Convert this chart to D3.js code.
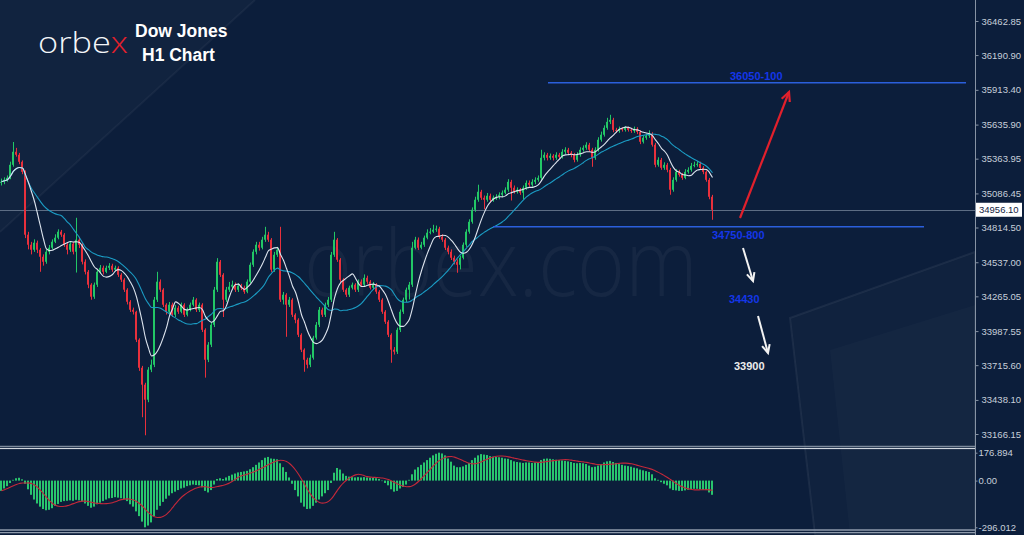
<!DOCTYPE html>
<html><head><meta charset="utf-8">
<script src="https://cdn.jsdelivr.net/npm/d3@7"></script>
<style>html,body{margin:0;padding:0;background:#0c1e3b;overflow:hidden}</style>
</head><body><svg id="c" width="1024" height="535"></svg>
<script>
// ---------- DATA ----------
const opens=[35171,35179,35195,35211,35315,35419,35395,35339,35259,34757,
34677,34637,34693,34637,34581,34541,34621,34653,34701,34733,
34781,34757,34677,34637,34685,34621,34717,34677,34541,34461,
34358,34262,34358,34461,34493,34461,34493,34509,34478,34493,
34437,34398,34318,34222,34158,34142,33919,33695,33560,33440,
33680,33719,34238,34382,34318,34198,34142,34198,34118,34174,
34142,34198,34118,34158,34198,34238,34158,34198,33998,33759,
33879,34038,34318,34541,34437,34238,34318,34342,34358,34318,
34350,34334,34302,34382,34517,34621,34677,34653,34717,34757,
34717,34478,34597,34637,34238,34278,34198,34238,34118,34078,
33958,33839,33759,33719,33775,33935,34038,34158,34118,34198,
34238,34597,34717,34557,34398,34318,34278,34334,34358,34318,
34382,34358,34413,34382,34334,34358,34302,34238,34142,34062,
33958,33839,33823,33998,34142,34238,34318,34358,34653,34717,
34653,34677,34733,34773,34781,34797,34805,34741,34717,34653,
34621,34573,34541,34517,34573,34677,34781,34860,34956,35036,
35100,35052,35036,35068,35036,35052,35060,35076,35092,35116,
35179,35132,35100,35116,35092,35132,35171,35156,35179,35195,
35211,35371,35395,35371,35387,35371,35395,35379,35419,35435,
35411,35395,35355,35395,35435,35451,35475,35435,35371,35435,
35515,35555,35610,35658,35674,35594,35586,35602,35594,35610,
35594,35586,35602,35578,35499,35531,35547,35562,35475,35315,
35355,35291,35315,35275,35116,35195,35259,35235,35211,35259,
35275,35307,35315,35323,35291,35259,35195,35060];
const highs=[35205,35215,35230,35340,35497,35450,35410,35350,35270,34780,
34700,34720,34710,34650,34600,34640,34675,34720,34760,34800,
34795,34770,34690,34705,34700,34892,34740,34690,34560,34475,
34370,34375,34480,34515,34510,34510,34530,34525,34510,34505,
34450,34410,34330,34235,34175,34150,33930,33710,33575,33700,
33760,34260,34461,34400,34330,34210,34220,34215,34195,34190,
34215,34210,34175,34215,34260,34250,34215,34210,34010,33900,
34060,34340,34570,34555,34450,34340,34380,34390,34375,34370,
34365,34350,34400,34535,34640,34700,34700,34740,34820,34780,
34730,34620,34660,34820,34300,34290,34260,34250,34130,34090,
33970,33850,33775,33800,33950,34060,34180,34175,34215,34260,
34620,34780,34730,34570,34410,34330,34350,34375,34370,34400,
34400,34440,34430,34395,34380,34370,34315,34250,34155,34075,
33970,33860,34015,34160,34255,34335,34380,34700,34740,34735,
34700,34750,34800,34810,34836,34830,34820,34760,34730,34670,
34640,34590,34560,34590,34695,34800,34880,34975,35060,35156,
35115,35070,35090,35085,35070,35080,35095,35110,35135,35200,
35195,35150,35135,35130,35150,35190,35190,35200,35215,35230,
35435,35415,35410,35405,35400,35415,35410,35440,35455,35450,
35425,35410,35415,35455,35470,35495,35490,35450,35455,35535,
35580,35630,35690,35714,35690,35610,35620,35615,35625,35620,
35610,35620,35615,35590,35550,35565,35590,35575,35490,35375,
35370,35335,35330,35290,35215,35280,35275,35250,35280,35295,
35330,35340,35345,35340,35305,35270,35210,35075];
const lows=[35150,35160,35180,35200,35300,35380,35320,35240,34730,34640,
34600,34620,34610,34461,34510,34525,34600,34640,34690,34720,
34740,34660,34600,34620,34600,34455,34650,34520,34440,34330,
34238,34245,34340,34445,34440,34450,34475,34460,34465,34420,
34380,34300,34200,34140,34120,33900,33670,33300,33156,33420,
33660,33700,34220,34300,34180,34120,34130,34100,34100,34125,
34130,34100,34105,34145,34185,34140,34140,33980,33616,33740,
33860,34020,34300,34420,34100,34220,34300,34330,34300,34300,
34315,34285,34290,34370,34500,34600,34630,34640,34700,34700,
34460,34460,34580,34220,34200,33942,34180,34100,34050,33940,
33820,33663,33690,33700,33760,33920,34020,34100,34100,34180,
34220,34580,34540,34380,34300,34260,34260,34320,34300,34300,
34340,34345,34365,34320,34320,34285,34220,34125,34045,33940,
33735,33800,33805,33980,34125,34220,34240,34340,34640,34635,
34640,34660,34720,34760,34770,34780,34725,34700,34635,34600,
34555,34520,34453,34480,34560,34660,34765,34845,34940,35020,
35035,34960,35020,35015,35020,35035,35040,35060,35080,35100,
35030,35085,35085,35075,35040,35115,35140,35140,35160,35180,
35195,35350,35350,35355,35350,35355,35360,35365,35400,35395,
35375,35335,35340,35380,35420,35435,35420,35299,35355,35420,
35500,35540,35595,35640,35575,35570,35570,35580,35580,35580,
35570,35570,35560,35480,35485,35515,35530,35460,35295,35300,
35275,35275,35255,35076,35100,35180,35220,35195,35200,35245,
35260,35295,35300,35275,35240,35180,35040,34876];
const closes=[35179,35195,35211,35315,35419,35395,35339,35259,34757,34677,
34637,34693,34637,34581,34541,34621,34653,34701,34733,34781,
34757,34677,34637,34685,34621,34717,34677,34541,34461,34358,
34262,34358,34461,34493,34461,34493,34509,34478,34493,34437,
34398,34318,34222,34158,34142,33919,33695,33560,33440,33680,
33719,34238,34382,34318,34198,34142,34198,34118,34174,34142,
34198,34118,34158,34198,34238,34158,34198,33998,33759,33879,
34038,34318,34541,34437,34238,34318,34342,34358,34318,34350,
34334,34302,34382,34517,34621,34677,34653,34717,34757,34717,
34478,34597,34637,34238,34278,34198,34238,34118,34078,33958,
33839,33759,33719,33775,33935,34038,34158,34118,34198,34238,
34597,34717,34557,34398,34318,34278,34334,34358,34318,34382,
34358,34413,34382,34334,34358,34302,34238,34142,34062,33958,
33839,33823,33998,34142,34238,34318,34358,34653,34717,34653,
34677,34733,34773,34781,34797,34805,34741,34717,34653,34621,
34573,34541,34517,34573,34677,34781,34860,34956,35036,35100,
35052,35036,35068,35036,35052,35060,35076,35092,35116,35179,
35132,35100,35116,35092,35132,35171,35156,35179,35195,35211,
35371,35395,35371,35387,35371,35395,35379,35419,35435,35411,
35395,35355,35395,35435,35451,35475,35435,35371,35435,35515,
35555,35610,35658,35674,35594,35586,35602,35594,35610,35594,
35586,35602,35578,35499,35531,35547,35562,35475,35315,35355,
35291,35315,35275,35116,35195,35259,35235,35211,35259,35275,
35307,35315,35323,35291,35259,35195,35060,34956];
const macdHist=[-65,-50,-35,-15,5,15,18,8,-20,-55,
-90,-120,-145,-165,-180,-188,-185,-175,-160,-148,
-135,-130,-128,-125,-128,-122,-125,-132,-145,-160,
-172,-165,-150,-140,-130,-120,-112,-110,-105,-108,
-112,-118,-130,-150,-165,-195,-225,-260,-296,-285,
-265,-225,-185,-160,-135,-115,-95,-80,-70,-60,
-50,-45,-35,-30,-25,-28,-30,-42,-65,-75,
-60,-25,10,15,10,20,30,38,45,52,
55,58,62,72,85,100,115,130,145,150,
140,138,135,110,85,55,20,-20,-60,-100,
-140,-165,-180,-178,-160,-140,-120,-100,-80,-60,
-15,50,80,70,45,30,25,22,20,22,
20,22,20,18,18,15,10,0,-15,-30,
-55,-70,-65,-50,-40,-25,5,40,70,85,
100,115,130,145,160,170,177,172,160,140,
120,95,85,85,90,100,112,130,145,160,
168,165,162,155,152,150,148,145,140,138,
130,122,118,115,112,115,115,112,115,118,
130,138,140,138,135,132,130,128,125,122,
118,112,110,112,110,105,95,85,88,95,
105,115,122,125,118,112,105,100,95,92,
88,82,78,70,65,60,55,40,15,5,
-10,-20,-30,-50,-60,-62,-65,-65,-62,-58,
-55,-52,-52,-55,-58,-60,-75,-90];
const priceTicks=[36462.85,36190.90,35913.40,35635.90,35363.95,35086.45,34814.50,34537.00,34265.05,33987.55,33715.60,33438.10,33166.15];
const macdTicks=[176.894,0,-296.012];
const macdTickLabels=['176.894','0.00','-296.012'];
const lastPrice=34956.10;
const levelPrices=[35970,34820];
const levelLabels=['36050-100','34750-800'];
const targetLabels=['34430','33900'];
const maPeriods=[21,8];

// ---------- DRAWING ----------
const W=1024,H=535,AX=975;
const svg=d3.select('#c');
const bg='#0c1e3b';
svg.append('rect').attr('width',W).attr('height',H).attr('fill',bg);

// decorative background shapes
const deco=svg.append('g');
deco.append('path').attr('d','M0,0 L255,0 L0,232 Z').attr('fill','rgba(255,255,255,0.022)');
deco.append('path').attr('d','M0,232 L255,0').attr('stroke','rgba(255,255,255,0.045)').attr('stroke-width',2);
deco.append('path').attr('d','M790,318 L975,252 L975,535 L815,535 Z').attr('fill','rgba(255,255,255,0.018)').attr('stroke','rgba(255,255,255,0.06)').attr('stroke-width',2);
deco.append('path').attr('d','M830,350 L975,305 L975,535 L850,535 Z').attr('fill','rgba(255,255,255,0.02)');

// watermark (natural width, vertically stretched)
svg.append('text').attr('transform','translate(304,296) scale(1,1.12)')
  .attr('font-family','Open Sans, Lato, sans-serif').attr('font-weight',300)
  .attr('font-size',82).attr('fill','rgba(255,255,255,0.045)').text('orbex.com');

const n=closes.length;
const data=d3.range(n).map(i=>({i,o:opens[i],h:highs[i],l:lows[i],c:closes[i]}));
const x=d3.scaleLinear().domain([0,n-1]).range([1,712]);
const y=d3.scaleLinear().domain([33166.15,36462.85]).range([434,21]);
const ym=d3.scaleLinear().domain([-296.012,176.894]).range([527.3,452.7]);

svg.append('defs').append('clipPath').attr('id','pc').append('rect').attr('x',0).attr('y',0).attr('width',AX).attr('height',445);

// current price line
svg.append('line').attr('x1',0).attr('x2',AX).attr('y1',Math.round(y(lastPrice))+0.5).attr('y2',Math.round(y(lastPrice))+0.5)
  .attr('stroke','#5d6d84').attr('stroke-width',1.2);

const green='#22c766',red='#e8303c';
const g=svg.append('g').attr('clip-path','url(#pc)');
g.selectAll('line.wick').data(data).join('line').attr('class','wick')
  .attr('x1',d=>x(d.i)+0.5).attr('x2',d=>x(d.i)+0.5)
  .attr('y1',d=>y(d.h)).attr('y2',d=>y(d.l))
  .attr('stroke',d=>d.c>=d.o?green:red).attr('stroke-width',1);
g.selectAll('rect.body').data(data).join('rect').attr('class','body')
  .attr('x',d=>x(d.i)-1).attr('width',2)
  .attr('y',d=>y(Math.max(d.o,d.c)))
  .attr('height',d=>Math.max(1,Math.abs(y(d.o)-y(d.c))))
  .attr('fill',d=>d.c>=d.o?green:red);

// moving averages
function sma(arr,p){return arr.map((v,i)=>d3.mean(arr.slice(Math.max(0,i-p+1),i+1)));}
const maColors=['#1b9cc4','#dde4ee'];
maPeriods.forEach((p,k)=>{
  const m=sma(closes,p);
  g.append('path').datum(m).attr('fill','none').attr('stroke',maColors[k]).attr('stroke-width',1.1)
   .attr('d',d3.line().x((v,i)=>x(i)+0.5).y(v=>y(v)).curve(d3.curveMonotoneX));
});

// level lines and annotations
const lvlX=[[548,966],[493,924]];
levelPrices.forEach((p,k)=>{
  svg.append('line').attr('x1',lvlX[k][0]).attr('x2',lvlX[k][1]).attr('y1',y(p)).attr('y2',y(p))
    .attr('stroke','#2b5fdc').attr('stroke-width',1.6);
});
const lab=(t,xx,yy,col)=>svg.append('text').attr('x',xx).attr('y',yy).attr('font-family','Liberation Sans, Arial, sans-serif')
  .attr('font-weight','bold').attr('font-size',11).attr('fill',col).text(t);
lab(levelLabels[0],730,80,'#1436e8');
lab(levelLabels[1],712,239,'#1436e8');
lab(targetLabels[0],729,303,'#1436e8');
lab(targetLabels[1],734,370,'#ececec');

function arrow(x1,y1,x2,y2,col,w,hl){
  const a=Math.atan2(y2-y1,x2-x1);
  svg.append('line').attr('x1',x1).attr('y1',y1).attr('x2',x2).attr('y2',y2).attr('stroke',col).attr('stroke-width',w);
  const p=[[x2-hl*Math.cos(a-0.45),y2-hl*Math.sin(a-0.45)],[x2,y2],[x2-hl*Math.cos(a+0.45),y2-hl*Math.sin(a+0.45)]];
  svg.append('path').attr('d',d3.line()(p)).attr('fill','none').attr('stroke',col).attr('stroke-width',w).attr('stroke-linejoin','miter');
}
arrow(740,218,789,92,'#e2202c',2.2,10);
arrow(743,248,753,281,'#f2f2f2',2,9);
arrow(758,316,768,353,'#f2f2f2',2,9);

// MACD pane
const gm=svg.append('g');
gm.selectAll('rect').data(macdHist).join('rect')
  .attr('x',(v,i)=>x(i)-1).attr('width',2)
  .attr('y',v=>Math.min(ym(0),ym(v))).attr('height',v=>Math.max(0.5,Math.abs(ym(v)-ym(0))))
  .attr('fill','#29c56d');
const sig=sma(macdHist,9);
gm.append('path').datum(sig).attr('fill','none').attr('stroke','#c3283a').attr('stroke-width',1.1)
  .attr('d',d3.line().x((v,i)=>x(i)+0.5).y(v=>ym(v)).curve(d3.curveMonotoneX));

// separators
svg.append('line').attr('x1',0).attr('x2',AX).attr('y1',446.5).attr('y2',446.5).attr('stroke','#7d8a9c').attr('stroke-width',1.3);
svg.append('line').attr('x1',0).attr('x2',AX).attr('y1',448.6).attr('y2',448.6).attr('stroke','#e6eaf0').attr('stroke-width',1);
svg.append('line').attr('x1',0).attr('x2',AX).attr('y1',530).attr('y2',530).attr('stroke','#8e9aab').attr('stroke-width',1.3);
svg.append('line').attr('x1',0).attr('x2',AX).attr('y1',532.6).attr('y2',532.6).attr('stroke','#8e9aab').attr('stroke-width',1.3);

// right axis
svg.append('line').attr('x1',AX+0.5).attr('x2',AX+0.5).attr('y1',0).attr('y2',H).attr('stroke','#8793a4').attr('stroke-width',1);
const ax=svg.append('g').attr('transform',`translate(${AX+0.5},0)`)
  .call(d3.axisRight(y).tickValues(priceTicks).tickFormat(d3.format('.2f')).tickSize(3).tickPadding(3));
ax.select('.domain').remove();
ax.selectAll('line').attr('stroke','#8793a4');
ax.selectAll('text').attr('fill','#c7cfda').attr('font-family','Liberation Sans, Arial, sans-serif').attr('font-size',9.5);
const axm=svg.append('g').attr('transform',`translate(${AX+0.5},0)`)
  .call(d3.axisRight(ym).tickValues(macdTicks).tickFormat((d,i)=>macdTickLabels[i]).tickSize(2).tickPadding(1));
axm.select('.domain').remove();
axm.selectAll('line').attr('stroke','#8793a4');
axm.selectAll('text').attr('fill','#c7cfda').attr('font-family','Liberation Sans, Arial, sans-serif').attr('font-size',9.5);

// current price box
const yp=y(lastPrice);
svg.append('rect').attr('x',AX+1).attr('y',yp-7).attr('width',46).attr('height',14).attr('fill','#ffffff');
svg.append('text').attr('x',AX+4).attr('y',yp+3.5).attr('font-family','Liberation Sans, Arial, sans-serif').attr('font-size',9.5)
  .attr('fill','#13233f').text(d3.format('.2f')(lastPrice));

// logo and title
const logo=svg.append('text').attr('x',38).attr('y',53).attr('font-family','Open Sans, Lato, sans-serif').attr('font-weight',300)
  .attr('font-size',30).attr('textLength',90).attr('lengthAdjust','spacingAndGlyphs');
logo.append('tspan').attr('fill','#f4f6f9').text('orbe');
logo.append('tspan').attr('fill','#e3202c').text('x');
svg.append('text').attr('x',135).attr('y',37).attr('font-family','Liberation Sans, Arial, sans-serif').attr('font-weight','bold')
  .attr('font-size',17.5).attr('fill','#ffffff').text('Dow Jones');
svg.append('text').attr('x',142).attr('y',61).attr('font-family','Liberation Sans, Arial, sans-serif').attr('font-weight','bold')
  .attr('font-size',17.5).attr('fill','#ffffff').text('H1 Chart');
</script></body></html>
